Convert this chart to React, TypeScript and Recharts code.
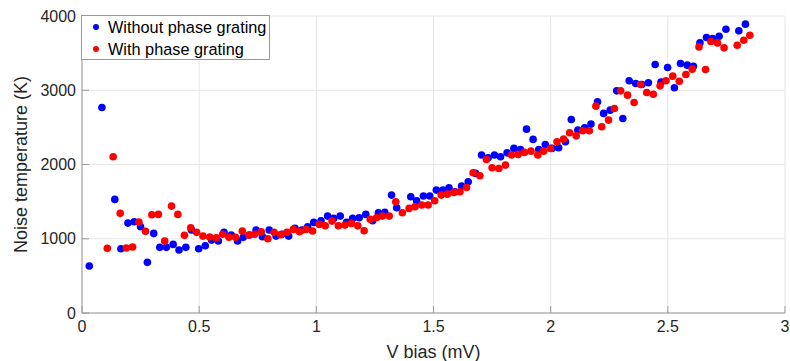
import React from 'react';
import { ScatterChart, Scatter, XAxis, YAxis, CartesianGrid } from 'recharts';

// V bias (mV) and noise temperature (K)
const withoutBias = [
  0.031, 0.085, 0.14, 0.166, 0.196, 0.223, 0.25, 0.279, 0.306, 0.332, 0.36, 0.389, 0.414, 0.443, 0.467,
  0.498, 0.526, 0.553, 0.582, 0.606, 0.637, 0.664, 0.688, 0.715, 0.743, 0.77, 0.799, 0.828, 0.854, 0.882,
  0.909, 0.939, 0.963, 0.989, 1.02, 1.048, 1.074, 1.102, 1.129, 1.155, 1.183, 1.211, 1.24, 1.265, 1.292,
  1.321, 1.343, 1.403, 1.428, 1.457, 1.484, 1.512, 1.54, 1.566, 1.591, 1.62, 1.648, 1.68, 1.705, 1.733,
  1.76, 1.786, 1.814, 1.843, 1.871, 1.897, 1.925, 1.949, 1.977, 2.006, 2.034, 2.063, 2.088, 2.116, 2.145,
  2.172, 2.2, 2.226, 2.254, 2.282, 2.308, 2.335, 2.363, 2.389, 2.417, 2.446, 2.471, 2.499, 2.528, 2.554,
  2.583, 2.609, 2.637, 2.665, 2.691, 2.719, 2.748, 2.803, 2.831,
];
const withoutTemp = [
  633, 2768, 1530, 865, 1211, 1229, 1162, 682, 1072, 884, 884, 924, 848, 884, 1117,
  865, 906, 982, 969, 1086, 1050, 969, 1019, 1050, 1117, 1027, 1117, 1036, 1059, 1036,
  1140, 1117, 1162, 1220, 1242, 1305, 1274, 1305, 1220, 1274, 1283, 1328, 1242, 1350, 1355,
  1588, 1417, 1565, 1511, 1575, 1575, 1655, 1655, 1686, 1633, 1709, 1767, 1880, 2127, 2090,
  2127, 2104, 2157, 2217, 2203, 2476, 2338, 2203, 2270, 2217, 2225, 2306, 2607, 2463, 2494,
  2544, 2844, 2688, 2732, 2992, 2620, 3127, 3091, 3078, 3100, 3347, 3109, 3307, 3033, 3360,
  3338, 3324, 3638, 3711, 3697, 3728, 3822, 3800, 3890,
];

const withBias = [
  0.108, 0.133, 0.163, 0.189, 0.216, 0.243, 0.271, 0.298, 0.326, 0.353, 0.382, 0.409, 0.437, 0.464, 0.489,
  0.516, 0.545, 0.573, 0.6, 0.627, 0.655, 0.684, 0.712, 0.737, 0.765, 0.793, 0.82, 0.848, 0.875, 0.902,
  0.928, 0.956, 0.984, 1.013, 1.038, 1.067, 1.094, 1.122, 1.15, 1.177, 1.204, 1.23, 1.257, 1.282, 1.311,
  1.339, 1.367, 1.396, 1.421, 1.45, 1.477, 1.505, 1.533, 1.559, 1.587, 1.613, 1.641, 1.669, 1.698, 1.726,
  1.75, 1.779, 1.807, 1.833, 1.861, 1.888, 1.916, 1.945, 1.97, 1.999, 2.027, 2.055, 2.081, 2.109, 2.137,
  2.165, 2.193, 2.218, 2.247, 2.272, 2.299, 2.328, 2.356, 2.384, 2.41, 2.438, 2.467, 2.492, 2.521, 2.549,
  2.577, 2.604, 2.633, 2.661, 2.684, 2.712, 2.74, 2.796, 2.824, 2.85,
];
const withTemp = [
  871, 2104, 1342, 875, 888, 1225, 1100, 1323, 1328, 969, 1440, 1328, 1046, 1148, 1086,
  1036, 1023, 1013, 1060, 1020, 1020, 1104, 1050, 1060, 1094, 1000, 1086, 1055, 1086, 1126,
  1094, 1126, 1104, 1193, 1175, 1238, 1175, 1184, 1207, 1175, 1108, 1261, 1283, 1305, 1305,
  1498, 1350, 1409, 1431, 1454, 1454, 1511, 1588, 1601, 1624, 1633, 1691, 1889, 1848, 2068,
  1956, 1947, 1992, 2127, 2136, 2163, 2180, 2127, 2180, 2217, 2306, 2342, 2427, 2386, 2454,
  2454, 2786, 2508, 2598, 2755, 2992, 2934, 2836, 3078, 2970, 2947, 3059, 3127, 3190, 3122,
  3213, 3284, 3584, 3280, 3656, 3638, 3571, 3607, 3674, 3741,
];

const xTicks = [0, 0.5, 1, 1.5, 2, 2.5, 3];
const yTicks = [0, 1000, 2000, 3000, 4000];

const seriesNames = ['Without phase grating', 'With phase grating'];
const seriesColors = ['#0000ff', '#ff0000'];

const withoutData = withoutBias.map((v, i) => ({ v, t: withoutTemp[i] }));
const withData = withBias.map((v, i) => ({ v, t: withTemp[i] }));

const FONT = '"Liberation Sans", Arial, Helvetica, sans-serif';
const AXIS = '#999999';
const TEXT = '#262626';
const TICK = 7;

const Dot = (color: string) => (props: any) => (
  <circle cx={props.cx} cy={props.cy} r={3.8} fill={color} />
);

const BottomTick = (props: any) => {
  const { x, y, payload } = props;
  return (
    <g>
      <line x1={x} x2={x} y1={y} y2={y - TICK} stroke={AXIS} />
      <text x={x} y={y + 13} dy="0.35em" textAnchor="middle" fill={TEXT} fontSize={16} fontFamily={FONT}>
        {payload.value}
      </text>
    </g>
  );
};

const TopTick = (props: any) => {
  const { x, y } = props;
  return <line x1={x} x2={x} y1={y} y2={y + TICK} stroke={AXIS} />;
};

const LeftTick = (props: any) => {
  const { x, y, payload } = props;
  return (
    <g>
      <line x1={x} x2={x + TICK} y1={y} y2={y} stroke={AXIS} />
      <text x={x - 6} y={y} dy="0.35em" textAnchor="end" fill={TEXT} fontSize={16} fontFamily={FONT}>
        {payload.value}
      </text>
    </g>
  );
};

const RightTick = (props: any) => {
  const { x, y } = props;
  return <line x1={x} x2={x - TICK} y1={y} y2={y} stroke={AXIS} />;
};

export default function App() {
  return (
    <div style={{ position: 'absolute', left: 0, top: 0, width: 790, height: 361, background: '#fff' }}>
      <ScatterChart width={790} height={361} margin={{ top: 16, right: 5, bottom: 0, left: 0 }}>
        <CartesianGrid stroke="#e6e6e6" />
        <XAxis
          type="number"
          dataKey="v"
          domain={[0, 3]}
          ticks={xTicks}
          height={48}
          stroke={AXIS}
          tickLine={false}
          tickSize={0}
          tickMargin={0}
          tick={<BottomTick />}
          label={{ value: 'V bias (mV)', position: 'insideBottom', offset: 3, fill: TEXT, fontSize: 18, fontFamily: FONT }}
        />
        <XAxis
          xAxisId="top"
          orientation="top"
          type="number"
          domain={[0, 3]}
          ticks={xTicks}
          height={0}
          stroke={AXIS}
          tickLine={false}
          tickSize={0}
          tickMargin={0}
          tick={<TopTick />}
        />
        <YAxis
          type="number"
          dataKey="t"
          domain={[0, 4000]}
          ticks={yTicks}
          width={82}
          stroke={AXIS}
          tickLine={false}
          tickSize={0}
          tickMargin={0}
          tick={<LeftTick />}
          label={{ value: 'Noise temperature (K)', angle: -90, position: 'center', dx: -20, fill: TEXT, fontSize: 18, fontFamily: FONT }}
        />
        <YAxis
          yAxisId="right"
          orientation="right"
          type="number"
          domain={[0, 4000]}
          ticks={yTicks}
          width={0}
          stroke={AXIS}
          tickLine={false}
          tickSize={0}
          tickMargin={0}
          tick={<RightTick />}
        />
        <Scatter name={seriesNames[0]} data={withoutData} shape={Dot(seriesColors[0])} isAnimationActive={false} />
        <Scatter name={seriesNames[1]} data={withData} shape={Dot(seriesColors[1])} isAnimationActive={false} />
      </ScatterChart>
      <div
        style={{
          position: 'absolute',
          left: 81,
          top: 15,
          width: 189,
          height: 45,
          boxSizing: 'border-box',
          border: `1px solid ${AXIS}`,
          background: '#fff',
          fontFamily: FONT,
          fontSize: 16.3,
          color: '#000',
        }}
      >
        {seriesNames.map((name, i) => (
          <div key={name} style={{ position: 'absolute', left: 0, top: i * 22, height: 22, display: 'flex', alignItems: 'center', whiteSpace: 'nowrap' }}>
            <span style={{ display: 'inline-block', width: 6, height: 6, borderRadius: 3, background: seriesColors[i], marginLeft: 11, marginRight: 9 }} />
            {name}
          </div>
        ))}
      </div>
    </div>
  );
}
